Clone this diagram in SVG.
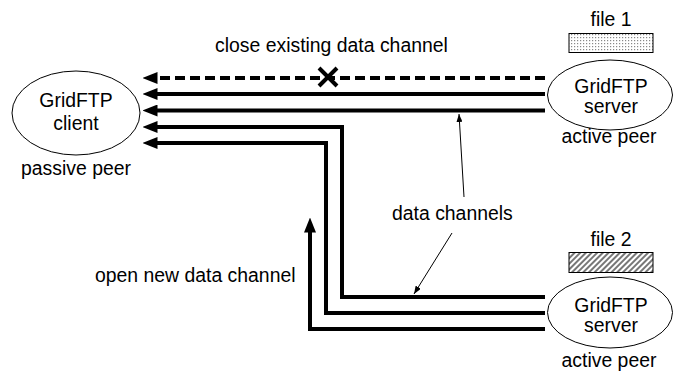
<svg xmlns="http://www.w3.org/2000/svg" width="673" height="372" viewBox="0 0 673 372">
<style>
text{font-family:"Liberation Sans",Arial,sans-serif;font-size:19.4px;fill:#000}
.c{text-anchor:middle}
.node{fill:#fff;stroke:#000;stroke-width:1}
.thick{fill:none;stroke:#000;stroke-width:4}
.dash{stroke-dasharray:10 5}
.thin{fill:none;stroke:#000;stroke-width:1}
</style>
<defs>
<marker id="ah" markerUnits="userSpaceOnUse" viewBox="0 0 15 12" refX="0.5" refY="6" markerWidth="15" markerHeight="12" orient="auto">
<path d="M0,0 L15,6 L0,12 Z" fill="#000"/>
</marker>
<marker id="as" markerUnits="userSpaceOnUse" viewBox="0 0 8 6" refX="8" refY="3" markerWidth="8" markerHeight="6" orient="auto">
<path d="M0,0 L8,3 L0,6 Z" fill="#000"/>
</marker>
<pattern id="dots" patternUnits="userSpaceOnUse" width="3" height="3">
<rect width="3" height="3" fill="#fff"/>
<rect x="1" y="1" width="1.2" height="1.2" fill="#888"/>
</pattern>
<pattern id="hatch" patternUnits="userSpaceOnUse" width="4" height="4" patternTransform="rotate(45)">
<rect width="4" height="4" fill="#fff"/>
<rect width="2" height="4" fill="#777"/>
</pattern>
</defs>
<g id="connectors">
<path class="thick dash" d="M545,78 H157" marker-end="url(#ah)"/>
<path class="thick" d="M545,94 H157" marker-end="url(#ah)"/>
<path class="thick" d="M545,110.5 H157" marker-end="url(#ah)"/>
<path class="thick" d="M545,297 H342 V127 H157" marker-end="url(#ah)"/>
<path class="thick" d="M545,313 H326 V143 H157" marker-end="url(#ah)"/>
<path class="thick" d="M545,329 H310 V232" marker-end="url(#ah)"/>
<path d="M319,68 L337,86 M337,68 L319,86" stroke="#000" stroke-width="4" fill="none"/>
<path class="thin" d="M464,197 L459,114" marker-end="url(#as)"/>
<path class="thin" d="M452,233 L414,294" marker-end="url(#as)"/>
</g>
<g id="client">
<ellipse class="node" cx="76" cy="113" rx="64" ry="42"/>
<text class="c" x="76" y="107">GridFTP</text>
<text class="c" x="76" y="130">client</text>
<text class="c" x="76" y="175">passive peer</text>
</g>
<g id="server1">
<text class="c" x="611" y="26">file 1</text>
<rect x="569" y="33.5" width="84" height="19" fill="url(#dots)" stroke="#000" stroke-width="1"/>
<ellipse class="node" cx="610" cy="95" rx="62.5" ry="35"/>
<text class="c" x="611" y="93">GridFTP</text>
<text class="c" x="611" y="113">server</text>
<text class="c" x="609" y="143">active peer</text>
</g>
<g id="server2">
<text class="c" x="611" y="246">file 2</text>
<rect x="569" y="252.5" width="84" height="20" fill="url(#hatch)" stroke="#000" stroke-width="1"/>
<ellipse class="node" cx="610" cy="312.5" rx="62.5" ry="35.5"/>
<text class="c" x="611" y="312">GridFTP</text>
<text class="c" x="611" y="332">server</text>
<text class="c" x="609" y="367">active peer</text>
</g>
<g id="labels">
<text x="215" y="52">close existing data channel</text>
<text x="392" y="220">data channels</text>
<text x="95" y="282">open new data channel</text>
</g>
</svg>
